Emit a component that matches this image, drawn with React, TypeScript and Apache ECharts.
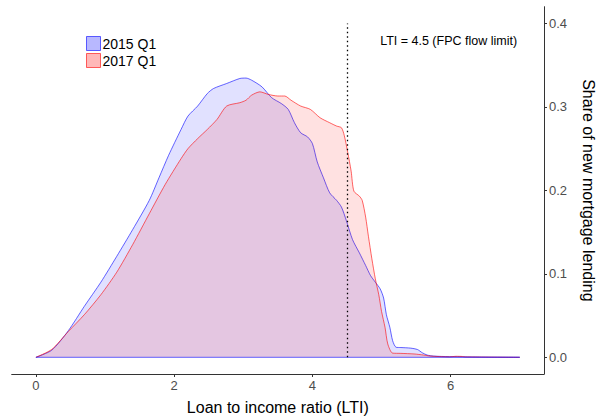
import React, { useEffect, useRef } from "react";
import * as echarts from "echarts";

const FONT = '"Liberation Sans", Arial, sans-serif';

const TITLE = "Mortgage lending";
const X_NAME = "Loan to income ratio (LTI)";
const Y_NAME = "Share of new mortgage lending";
const SERIES_NAMES = ["2015 Q1", "2017 Q1"];
const X_TICKS = [0, 2, 4, 6];
const Y_TICKS = [0, 0.1, 0.2, 0.3, 0.4];
const LTI_LIMIT = 4.5;
const LTI_LABEL = "LTI = 4.5 (FPC flow limit)";
const LTI_LABEL_POS = [5.97, 0.379];
const X_RANGE = [0, 7];

const x2015 = [0, 0.23, 0.47, 0.7, 0.94, 1.17, 1.4, 1.64, 1.78, 1.92, 2.1, 2.2, 2.34, 2.48, 2.57, 2.76, 2.95, 3.04, 3.12, 3.27, 3.41, 3.55, 3.65, 3.74, 3.83, 3.93, 4.0, 4.07, 4.16, 4.25, 4.35, 4.42, 4.49, 4.58, 4.68, 4.77, 4.84, 4.91, 4.98, 5.03, 5.07, 5.12, 5.16, 5.21, 5.28, 5.42, 5.52, 5.59, 5.66, 5.75, 5.98, 6.5, 7.0];
const y2015 = [0, 0.0085, 0.032, 0.061, 0.09, 0.121, 0.153, 0.188, 0.215, 0.242, 0.273, 0.289, 0.301, 0.316, 0.322, 0.328, 0.334, 0.3345, 0.332, 0.324, 0.311, 0.304, 0.297, 0.281, 0.269, 0.264, 0.256, 0.234, 0.215, 0.197, 0.188, 0.18, 0.164, 0.141, 0.125, 0.11, 0.098, 0.09, 0.082, 0.071, 0.051, 0.036, 0.02, 0.012, 0.0117, 0.011, 0.0093, 0.0054, 0.0027, 0.0015, 0.0008, 0.0003, 0.0001];

const x2017 = [0, 0.23, 0.47, 0.7, 0.94, 1.17, 1.4, 1.64, 1.87, 2.1, 2.2, 2.34, 2.48, 2.62, 2.76, 2.95, 3.04, 3.12, 3.24, 3.36, 3.5, 3.6, 3.69, 3.83, 3.97, 4.11, 4.25, 4.35, 4.42, 4.46, 4.51, 4.56, 4.6, 4.68, 4.72, 4.77, 4.81, 4.86, 4.91, 4.96, 5.0, 5.05, 5.09, 5.16, 5.28, 5.47, 5.61, 5.7, 5.98, 6.08, 6.17, 6.21, 7.0];
const y2017 = [0, 0.0095, 0.031, 0.051, 0.075, 0.102, 0.135, 0.172, 0.207, 0.238, 0.25, 0.262, 0.273, 0.285, 0.301, 0.305, 0.308, 0.314, 0.318, 0.315, 0.313, 0.313, 0.308, 0.301, 0.297, 0.287, 0.281, 0.277, 0.275, 0.266, 0.246, 0.223, 0.199, 0.193, 0.188, 0.168, 0.145, 0.118, 0.094, 0.075, 0.055, 0.036, 0.016, 0.005, 0.0047, 0.004, 0.0027, 0.0015, 0.0005, 0.0012, 0.001, 0.0005, 0];

const BLUE_LINE = "rgba(0,0,255,0.6)";
const BLUE_FILL = "rgba(0,0,255,0.17)";
const RED_LINE = "rgba(255,0,0,0.6)";
const RED_FILL = "rgba(255,0,0,0.17)";
const AXIS_COLOR = "#333333";
const LABEL_COLOR = "#4d4d4d";

export default function App() {
  const ref = useRef<HTMLDivElement>(null);

  useEffect(() => {
    if (!ref.current) return;
    const chart = echarts.init(ref.current, undefined, { renderer: "svg" });
    const d2015 = x2015.map((x, i) => [x, y2015[i]]);
    const d2017 = x2017.map((x, i) => [x, y2017[i]]);

    chart.setOption({
      animation: false,
      textStyle: { fontFamily: FONT },
      grid: { left: 11.7, right: 43.3, top: 6.7, bottom: 36, containLabel: false },
      legend: {
        orient: "vertical",
        left: 86,
        top: 36,
        padding: 0,
        itemGap: 2,
        itemWidth: 14,
        itemHeight: 14,
        icon: "rect",
        textStyle: { color: "#000", fontSize: 14, fontFamily: FONT, padding: [0, 0, 0, -3] },
        data: [
          { name: SERIES_NAMES[0], itemStyle: { color: "rgba(0,0,255,0.28)", borderColor: BLUE_LINE, borderWidth: 1 } },
          { name: SERIES_NAMES[1], itemStyle: { color: "rgba(255,0,0,0.28)", borderColor: RED_LINE, borderWidth: 1 } },
        ],
      },
      graphic: [
        {
          type: "text",
          x: 9,
          y: -15,
          silent: true,
          style: {
            text: TITLE,
            fontSize: 27,
            fontWeight: "bold",
            fontFamily: FONT,
            fill: "#000",
            verticalAlign: "middle",
          },
        },
      ],
      xAxis: {
        type: "value",
        min: -0.35,
        max: 7.35,
        name: X_NAME,
        nameLocation: "middle",
        nameGap: 25,
        nameTextStyle: { color: "#000", fontSize: 16, fontFamily: FONT },
        axisLine: { onZero: false, lineStyle: { color: AXIS_COLOR, width: 1 } },
        axisTick: { show: true, length: 3, customValues: X_TICKS, lineStyle: { color: AXIS_COLOR } },
        axisLabel: { customValues: X_TICKS, color: LABEL_COLOR, fontSize: 13, margin: 5, fontFamily: FONT },
        splitLine: { show: false },
      },
      yAxis: {
        type: "value",
        position: "right",
        min: -0.02,
        max: 0.42,
        name: Y_NAME,
        nameLocation: "middle",
        nameRotate: -90,
        nameGap: 36,
        nameTextStyle: { color: "#000", fontSize: 16, fontFamily: FONT },
        axisLine: { show: true, onZero: false, lineStyle: { color: AXIS_COLOR, width: 1 } },
        axisTick: { show: true, length: 3, customValues: Y_TICKS, lineStyle: { color: AXIS_COLOR } },
        axisLabel: {
          customValues: Y_TICKS,
          color: LABEL_COLOR,
          fontSize: 13,
          margin: 5,
          fontFamily: FONT,
          formatter: (v: number) => v.toFixed(1),
        },
        splitLine: { show: false },
      },
      series: [
        {
          name: SERIES_NAMES[0],
          type: "line",
          data: d2015,
          showSymbol: false,
          symbol: "none",
          smooth: 0.25,
          lineStyle: { color: BLUE_LINE, width: 1 },
          itemStyle: { color: BLUE_LINE },
          areaStyle: { color: BLUE_FILL },
          z: 2,
        },
        {
          name: SERIES_NAMES[1],
          type: "line",
          data: d2017,
          showSymbol: false,
          symbol: "none",
          smooth: 0.25,
          lineStyle: { color: RED_LINE, width: 1 },
          itemStyle: { color: RED_LINE },
          areaStyle: { color: RED_FILL },
          z: 3,
        },
        {
          name: "baseline",
          type: "line",
          data: [[X_RANGE[0], 0], [X_RANGE[1], 0]],
          showSymbol: false,
          symbol: "none",
          silent: true,
          lineStyle: { color: BLUE_LINE, width: 1 },
          z: 4,
          markLine: {
            silent: true,
            symbol: "none",
            label: { show: false },
            lineStyle: { color: "#000", width: 1.3, type: [1.5, 3] },
            data: [[{ coord: [LTI_LIMIT, 0] }, { coord: [LTI_LIMIT, 0.4] }]],
          },
          markPoint: {
            silent: true,
            symbol: "circle",
            symbolSize: 0,
            data: [
              {
                coord: LTI_LABEL_POS,
                label: {
                  show: true,
                  position: "inside",
                  formatter: LTI_LABEL,
                  color: "#000",
                  fontSize: 12.5,
                  fontFamily: FONT,
                },
              },
            ],
          },
        },
      ],
    });

    return () => chart.dispose();
  }, []);

  return (
    <div
      ref={ref}
      style={{ position: "absolute", left: 0, top: 0, width: 604, height: 420, background: "#fff" }}
    />
  );
}
